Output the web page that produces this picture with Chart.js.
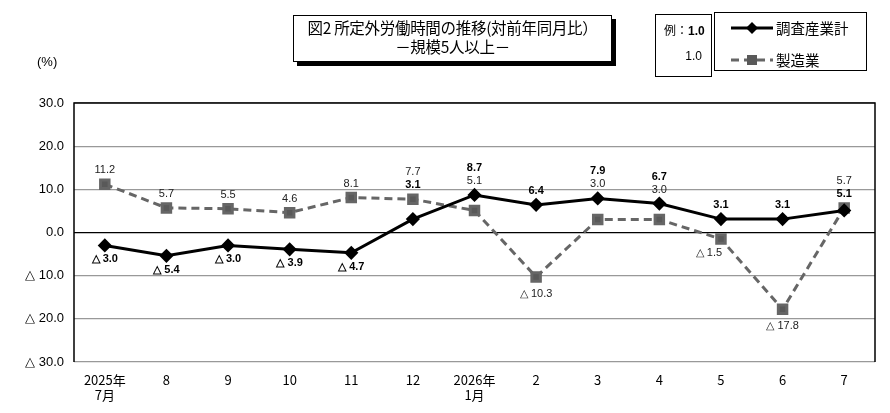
<!DOCTYPE html>
<html>
<head>
<meta charset="utf-8">
<script src="https://cdn.jsdelivr.net/npm/chart.js@4"></script>
<style>
  body { margin: 0; background: #fff; font-family: "Liberation Sans", "Noto Sans CJK JP", sans-serif; }
  #wrap { position: relative; width: 890px; height: 413px; }
  #titleBox {
    position: absolute; left: 293px; top: 15px; width: 317px; height: 43px;
    border: 1px solid #000; box-shadow: 4px 4px 0 #000; background: #fff;
    text-align: center; font-size: 15.5px; line-height: 19px; padding-top: 2px; box-sizing: content-box;
    font-family: "Noto Sans CJK JP", sans-serif; white-space: nowrap; letter-spacing: -0.3px;
  }
  #exBox {
    position: absolute; left: 655px; top: 14px; width: 55px; height: 61px;
    border: 1px solid #000; font-size: 12px;
  }
  #exBox .r1 { position: absolute; left: 8px; top: 6px; font-family: "Noto Sans CJK JP", sans-serif; }
  #exBox .r1 b { font-family: "Liberation Sans", sans-serif; }
  #exBox .r2 { position: absolute; right: 9px; top: 34px; }
  #legBox {
    position: absolute; left: 714px; top: 12px; width: 151px; height: 57px;
    border: 1px solid #000; font-size: 14.5px; font-family: "Noto Sans CJK JP", sans-serif;
  }
  #legBox svg { position: absolute; left: 16px; }
  #legBox span { position: absolute; left: 61px; }
  #unit { position: absolute; left: 37px; top: 54px; font-size: 13px; }
</style>
</head>
<body>
<div id="wrap">
  <canvas id="chart" width="890" height="413"></canvas>
  <div id="titleBox">図2 所定外労働時間の推移(対前年同月比）<br>－規模5人以上－</div>
  <div id="exBox"><div class="r1">例：<b>1.0</b></div><div class="r2">1.0</div></div>
  <div id="legBox">
    <svg style="top:8px" width="42" height="14"><line x1="0" y1="7" x2="42" y2="7" stroke="#000" stroke-width="3"/><polygon points="21,1 27,7 21,13 15,7" fill="#000"/></svg>
    <span style="top:4px">調査産業計</span>
    <svg style="top:40px" width="42" height="14"><line x1="0" y1="7" x2="42" y2="7" stroke="#666" stroke-width="3" stroke-dasharray="8,5"/><rect x="16" y="2" width="10" height="10" fill="#595959"/></svg>
    <span style="top:36px">製造業</span>
  </div>
  <div id="unit">(%)</div>
</div>
<script>
const months = [['2025年', '7月'], '8', '9', '10', '11', '12', ['2026年', '1月'], '2', '3', '4', '5', '6', '7'];
const totalValues = [-3.0, -5.4, -3.0, -3.9, -4.7, 3.1, 8.7, 6.4, 7.9, 6.7, 3.1, 3.1, 5.1];
const mfgValues = [11.2, 5.7, 5.5, 4.6, 8.1, 7.7, 5.1, -10.3, 3.0, 3.0, -1.5, -17.8, 5.7];
const yTicks = [30, 20, 10, 0, -10, -20, -30];

function fmt(v) {
    return v < 0 ? '△ ' + Math.abs(v).toFixed(1) : v.toFixed(1);
}

const frame = {
    id: 'frame',
    afterDatasetsDraw(chart) {
        const { ctx, chartArea: a } = chart;
        ctx.save();
        ctx.strokeStyle = '#000';
        ctx.lineWidth = 1.5;
        ctx.beginPath();
        ctx.moveTo(a.left, a.bottom);
        ctx.lineTo(a.left, a.top);
        ctx.lineTo(a.right, a.top);
        ctx.lineTo(a.right, a.bottom);
        ctx.stroke();
        ctx.restore();
    }
};

// numbers next to the points: positives stacked above, negatives under their own point
const valueLabels = {
    id: 'valueLabels',
    afterDatasetsDraw(chart) {
        const ctx = chart.ctx;
        const mTot = chart.getDatasetMeta(0);
        const mMfg = chart.getDatasetMeta(1);
        ctx.save();
        ctx.textAlign = 'center';
        ctx.textBaseline = 'middle';
        totalValues.forEach((tv, i) => {
            const items = [
                { v: tv, p: mTot.data[i], font: 'bold 11px "Liberation Sans", sans-serif', color: '#000' },
                { v: mfgValues[i], p: mMfg.data[i], font: '11px "Liberation Sans", sans-serif', color: '#222' }
            ];
            const pos = items.filter(o => o.v >= 0).sort((a, b) => b.v - a.v);
            if (pos.length) {
                const top = Math.min(...pos.map(o => o.p.y));
                pos.forEach((o, k) => {
                    ctx.font = o.font;
                    ctx.fillStyle = o.color;
                    ctx.fillText(fmt(o.v), o.p.x, top - 14 - (pos.length - 1 - k) * 13);
                });
            }
            items.filter(o => o.v < 0).forEach(o => {
                ctx.font = o.font;
                ctx.fillStyle = o.color;
                const shift = (o.v > -3 && o === items[1]) ? -12 : 0;
                ctx.fillText(fmt(o.v), o.p.x + shift, o.p.y + (o.v < -8 ? 17 : 14));
            });
        });
        ctx.restore();
    }
};

new Chart(document.getElementById('chart').getContext('2d'), {
    type: 'line',
    data: {
        labels: months,
        datasets: [{
            label: '調査産業計',
            data: totalValues,
            borderColor: '#000',
            backgroundColor: '#000',
            borderWidth: 3,
            pointStyle: 'rectRot',
            pointRadius: 5,
            tension: 0
        }, {
            label: '製造業',
            data: mfgValues,
            borderColor: '#666',
            backgroundColor: '#595959',
            borderWidth: 3,
            borderDash: [8, 5],
            pointStyle: 'rect',
            pointRadius: 6,
            tension: 0
        }]
    },
    options: {
        responsive: false,
        animation: false,
        layout: { padding: { top: 103, right: 15, left: 0, bottom: 0 } },
        plugins: { legend: { display: false }, tooltip: { enabled: false } },
        scales: {
            x: {
                offset: true,
                grid: { display: false, drawTicks: false },
                border: { display: false },
                ticks: {
                    color: '#000',
                    padding: 10,
                    maxRotation: 0,
                    autoSkip: false,
                    font: { family: '"Liberation Sans Narrow", "Noto Sans CJK JP", sans-serif', size: 13 }
                },
                afterFit(scale) { scale.height = 51; }
            },
            y: {
                min: -30,
                max: 30,
                afterBuildTicks(scale) { scale.ticks = yTicks.map(v => ({ value: v })); },
                grid: {
                    drawTicks: false,
                    lineWidth: 1.2,
                    color: c => (c.tick && c.tick.value === 0) ? '#000' : '#999'
                },
                border: { display: false },
                ticks: {
                    color: '#000',
                    padding: 10,
                    font: { family: '"Liberation Sans", sans-serif', size: 13 },
                    callback: v => fmt(v)
                },
                afterFit(scale) { scale.width = 74; }
            }
        }
    },
    plugins: [frame, valueLabels]
});
</script>
</body>
</html>
